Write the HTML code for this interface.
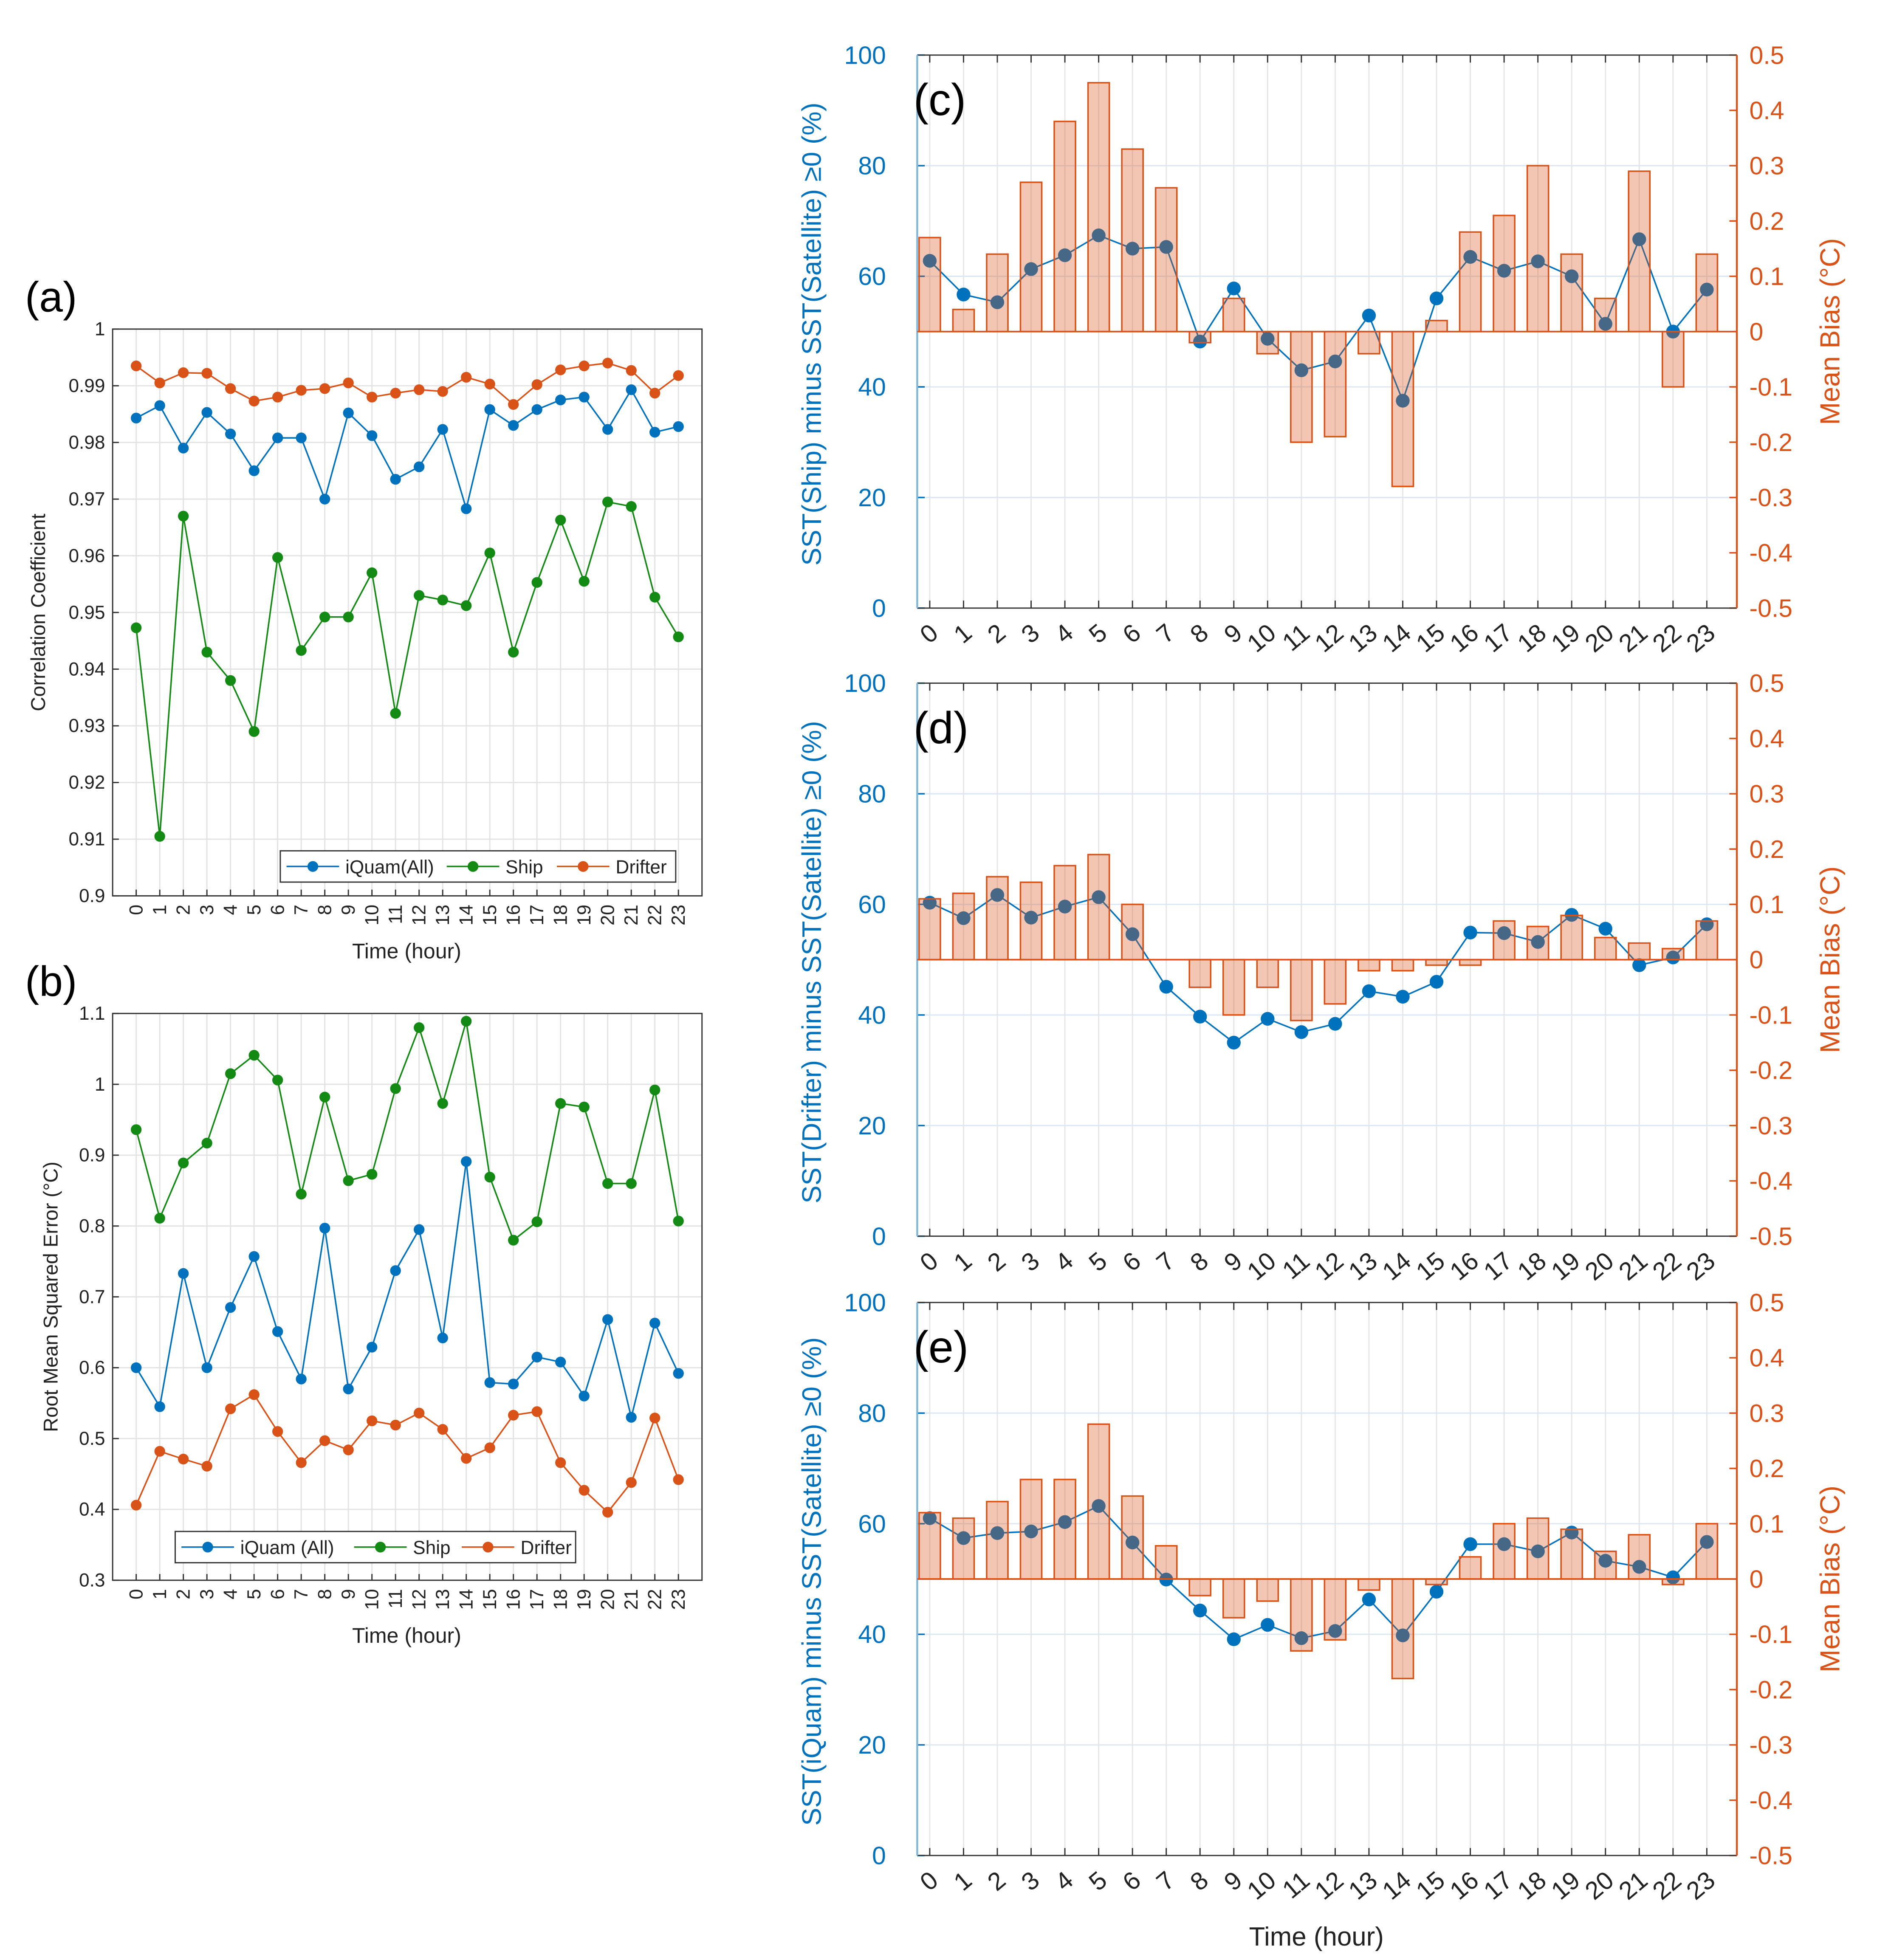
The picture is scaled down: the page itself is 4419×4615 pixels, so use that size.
<!DOCTYPE html>
<html><head><meta charset="utf-8"><style>
html,body{margin:0;padding:0;background:#fff}
svg{display:block;font-family:"Liberation Sans",sans-serif}
</style></head><body>
<svg id="root" width="4419" height="4615" viewBox="0 0 1500 1566.5" xmlns="http://www.w3.org/2000/svg"></svg>
<script>
const hours=[0,1,2,3,4,5,6,7,8,9,10,11,12,13,14,15,16,17,18,19,20,21,22,23];
const corrIquam=[0.9843,0.9865,0.9790,0.9853,0.9815,0.9750,0.9808,0.9808,0.9700,0.9852,0.9812,0.9735,0.9757,0.9823,0.9683,0.9858,0.9830,0.9858,0.9875,0.9880,0.9823,0.9893,0.9818,0.9828];
const corrShip=[0.9473,0.9105,0.9670,0.9430,0.9380,0.9290,0.9597,0.9433,0.9492,0.9492,0.9570,0.9322,0.9530,0.9522,0.9512,0.9605,0.9430,0.9553,0.9663,0.9555,0.9695,0.9687,0.9527,0.9457];
const corrDrifter=[0.9935,0.9905,0.9923,0.9922,0.9895,0.9873,0.9880,0.9892,0.9895,0.9905,0.9880,0.9887,0.9893,0.9890,0.9915,0.9903,0.9867,0.9902,0.9928,0.9935,0.9940,0.9927,0.9887,0.9918];
const rmseIquam=[0.60,0.545,0.733,0.60,0.685,0.757,0.651,0.584,0.797,0.570,0.629,0.737,0.795,0.642,0.891,0.579,0.577,0.615,0.608,0.560,0.668,0.530,0.663,0.592];
const rmseShip=[0.936,0.811,0.889,0.917,1.015,1.041,1.006,0.845,0.982,0.864,0.873,0.994,1.080,0.973,1.089,0.869,0.780,0.806,0.973,0.968,0.860,0.860,0.992,0.807];
const rmseDrifter=[0.406,0.482,0.471,0.461,0.542,0.562,0.510,0.466,0.497,0.484,0.525,0.519,0.536,0.513,0.472,0.487,0.533,0.538,0.466,0.427,0.396,0.438,0.529,0.442];
const pctShip=[62.8,56.7,55.3,61.3,63.8,67.4,65.0,65.3,48.2,57.8,48.7,43.0,44.6,52.9,37.5,56.0,63.5,61.0,62.7,60.0,51.4,66.7,50.0,57.6];
const biasShip=[0.17,0.04,0.14,0.27,0.38,0.45,0.33,0.26,-0.02,0.06,-0.04,-0.20,-0.19,-0.04,-0.28,0.02,0.18,0.21,0.30,0.14,0.06,0.29,-0.10,0.14];
const pctDrifter=[60.3,57.5,61.7,57.6,59.6,61.3,54.6,45.1,39.7,35.0,39.3,36.9,38.4,44.3,43.3,46.0,54.9,54.8,53.2,58.1,55.6,49.0,50.4,56.4];
const biasDrifter=[0.11,0.12,0.15,0.14,0.17,0.19,0.10,0,-0.05,-0.10,-0.05,-0.11,-0.08,-0.02,-0.02,-0.01,-0.01,0.07,0.06,0.08,0.04,0.03,0.02,0.07];
const pctIquam=[61.0,57.4,58.3,58.6,60.3,63.2,56.6,49.9,44.3,39.1,41.7,39.3,40.6,46.3,39.8,47.7,56.3,56.3,55.0,58.4,53.3,52.2,50.3,56.7];
const biasIquam=[0.12,0.11,0.14,0.18,0.18,0.28,0.15,0.06,-0.03,-0.07,-0.04,-0.13,-0.11,-0.02,-0.18,-0.01,0.04,0.10,0.11,0.09,0.05,0.08,-0.01,0.10];
const ticksA=[0.9,0.91,0.92,0.93,0.94,0.95,0.96,0.97,0.98,0.99,1];
const ticksB=[0.3,0.4,0.5,0.6,0.7,0.8,0.9,1,1.1];
const ticksPct=[0,20,40,60,80,100];
const ticksBias=[-0.5,-0.4,-0.3,-0.2,-0.1,0,0.1,0.2,0.3,0.4,0.5];

const NS="http://www.w3.org/2000/svg";
const root=document.getElementById('root');
function el(tag,attrs,parent,txt){const e=document.createElementNS(NS,tag);for(const k in attrs)e.setAttribute(k,attrs[k]);if(txt!==undefined)e.textContent=txt;(parent||root).appendChild(e);return e;}
const BLUE='#0072BD',GREEN='#138A13',ORANGE='#D95319';

function lineSeries(g,xs,ys,color,name,r){
  const pts=hours.map((h,i)=>xs(h)+','+ys(i)).join(' ');
  const pl=el('polyline',{points:pts,fill:'none',stroke:color,'stroke-width':1.2},g);
  
  
  hours.forEach((h,i)=>{
    const c=el('circle',{cx:xs(h),cy:ys(i),r:r||4.3,fill:color},g);
    
    
  });
}

function leftPanel(id,y0,ticks,dec,yl,series,label,ylabel,leg,legNames){
  const x0=90,x1=561,y1=y0+453;
  const g=el('g',{},root);
  
  
  const xs=h=>x0+(h+1)*(x1-x0)/25;
  const ys=v=>y1-(v-yl[0])/(yl[1]-yl[0])*(y1-y0);
  hours.forEach(h=>el('line',{x1:xs(h),x2:xs(h),y1:y0,y2:y1,stroke:'#e3e3e3','stroke-width':1},g));
  ticks.forEach(t=>{
    el('line',{x1:x0,x2:x1,y1:ys(t),y2:ys(t),stroke:'#e3e3e3','stroke-width':1},g);
    el('line',{x1:x0,x2:x0+5,y1:ys(t),y2:ys(t),stroke:'#333'},g);
    const tl=el('text',{x:x0-6,y:ys(t)+5,'text-anchor':'end','font-size':15,fill:'#222'},g,t.toFixed(dec).replace(/\.?0+$/,'')||'0');
    
    
  });
  hours.forEach(h=>{
    el('line',{x1:xs(h),x2:xs(h),y1:y1,y2:y1-5,stroke:'#333'},g);
    const tl=el('text',{x:0,y:0,transform:`translate(${xs(h)+5},${y1+7}) rotate(-90)`,'text-anchor':'end','font-size':15,fill:'#222'},g,String(h));
    
    
  });
  el('rect',{x:x0,y:y0,width:x1-x0,height:y1-y0,fill:'none',stroke:'#333','stroke-width':1},g);
  const cols=[BLUE,GREEN,ORANGE];
  series.forEach((s,k)=>lineSeries(g,xs,i=>ys(s[i]),cols[k],legNames[k].toLowerCase().replace(/[^a-z]/g,'')));
  const lab=el('text',{x:20,y:y0-14,'font-size':34,fill:'#000'},root,label);
  
  
  const yt=el('text',{x:0,y:0,transform:`translate(${id==='a'?36:46},${(y0+y1)/2}) rotate(-90)`,'text-anchor':'middle','font-size':16,fill:'#222'},root,ylabel);
  
  
  const xt=el('text',{x:325,y:y1+50,'text-anchor':'middle','font-size':17,fill:'#222'},root,'Time (hour)');
  
  
  const lg=el('g',{},root);
  
  
  el('rect',{x:leg[0],y:leg[1],width:leg[2],height:25,fill:'#fff',stroke:'#333'},lg);
  let lx=leg[0]+5;
  legNames.forEach((n,k)=>{
    const eg=el('g',{},lg);
    
    
    el('line',{x1:lx,x2:lx+42,y1:leg[1]+12.5,y2:leg[1]+12.5,stroke:cols[k],'stroke-width':1.2},eg);
    el('circle',{cx:lx+21,cy:leg[1]+12.5,r:4.3,fill:cols[k]},eg);
    el('text',{x:lx+47,y:leg[1]+18,'font-size':15,fill:'#222'},eg,n);
    lx+=leg[3][k];
  });
}

leftPanel('a',263,ticksA,2,[0.9,1],[corrIquam,corrShip,corrDrifter],'(a)','Correlation Coefficient',[224,680,316,[128,88,90]],['iQuam(All)','Ship','Drifter']);
leftPanel('b',810,ticksB,1,[0.3,1.1],[rmseIquam,rmseShip,rmseDrifter],'(b)','Root Mean Squared Error (°C)',[140,1224,320,[138,86,90]],['iQuam (All)','Ship','Drifter']);

function rightPanel(id,y0,pct,bias,label,ylabel,showX){
  const x0=733,x1=1388,y1=y0+442;
  const g=el('g',{},root);
  
  
  const xs=h=>x0+10+h*27;
  const yp=v=>y1-v/100*(y1-y0);
  const yb=v=>y1-(v+0.5)*(y1-y0);
  hours.forEach(h=>el('line',{x1:xs(h),x2:xs(h),y1:y0,y2:y1,stroke:'#e6e6e6','stroke-width':1},g));
  ticksPct.forEach(t=>{
    el('line',{x1:x0,x2:x1,y1:yp(t),y2:yp(t),stroke:'#dbe8f3','stroke-width':1},g);
    el('line',{x1:x0,x2:x0+6,y1:yp(t),y2:yp(t),stroke:BLUE,'stroke-width':1.2},g);
    const tl=el('text',{x:x0-25,y:yp(t)+7,'text-anchor':'end','font-size':20,fill:BLUE},g,String(t));
    
    
  });
  ticksBias.forEach(t=>{
    el('line',{x1:x1,x2:x1-6,y1:yb(t),y2:yb(t),stroke:ORANGE,'stroke-width':1.2},g);
    const tl=el('text',{x:x1+10,y:yb(t)+7,'font-size':20,fill:ORANGE},g,String(Math.round(t*10)/10));
    
    
  });
  hours.forEach(h=>{
    el('line',{x1:xs(h),x2:xs(h),y1:y1,y2:y1-6,stroke:'#333'},g);
    el('line',{x1:xs(h),x2:xs(h),y1:y0,y2:y0+6,stroke:'#333'},g);
    const tl=el('text',{x:0,y:0,transform:`translate(${xs(h)+8},${y1+22}) rotate(-40)`,'text-anchor':'end','font-size':20,fill:'#222'},g,String(h));
    
    
  });
  el('line',{x1:x0,x2:x1,y1:y1,y2:y1,stroke:'#333'},g);
  el('line',{x1:x0,x2:x1,y1:y0,y2:y0,stroke:'#333'},g);
  el('line',{x1:x0,x2:x0,y1:y0,y2:y1,stroke:'#7db7e0','stroke-width':1.5},g);
  el('line',{x1:x1,x2:x1,y1:y0,y2:y1,stroke:ORANGE,'stroke-width':1.5},g);
  lineSeries(g,xs,i=>yp(pct[i]),BLUE,'percent-'+id,5.5);
  bias.forEach((b,i)=>{
    const top=Math.min(yb(b),yb(0)),h=Math.abs(yb(b)-yb(0));
    const r=el('rect',{x:xs(hours[i])-8.5,y:top,width:17,height:h,fill:ORANGE,'fill-opacity':0.33,stroke:ORANGE,'stroke-width':1.2},g);
    
    
  });
  el('line',{x1:x0,x2:x1,y1:yb(0),y2:yb(0),stroke:ORANGE,'stroke-width':1.3},g);
  const lab=el('text',{x:730,y:y0+48,'font-size':36,fill:'#000'},root,label);
  
  
  const yt=el('text',{x:0,y:0,transform:`translate(656,${(y0+y1)/2+2}) rotate(-90)`,'text-anchor':'middle','font-size':21.5,fill:BLUE},root,ylabel);
  
  
  const rt=el('text',{x:0,y:0,transform:`translate(1470,${(y0+y1)/2}) rotate(-90)`,'text-anchor':'middle','font-size':22,fill:ORANGE,'xml:space':'preserve'},root,'Mean Bias   (°C)');
  
  
  if(showX){
    const xt=el('text',{x:1052,y:y1+72,'text-anchor':'middle','font-size':21,fill:'#222'},root,'Time (hour)');
    
    
  }
}
rightPanel('c',44,pctShip,biasShip,'(c)','SST(Ship) minus SST(Satellite) ≥0  (%)',false);
rightPanel('d',546,pctDrifter,biasDrifter,'(d)','SST(Drifter) minus SST(Satellite) ≥0  (%)',false);
rightPanel('e',1041,pctIquam,biasIquam,'(e)','SST(iQuam) minus SST(Satellite) ≥0  (%)',true);
</script>
</body></html>
